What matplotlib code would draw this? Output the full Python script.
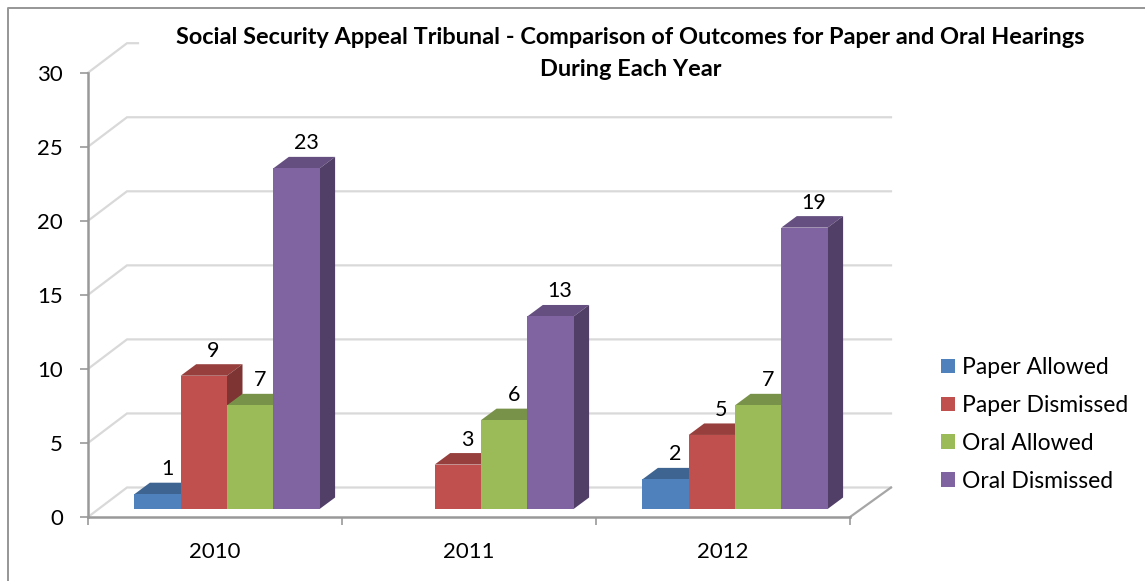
import matplotlib.pyplot as plt
from matplotlib.lines import Line2D
from matplotlib.patches import Patch, Polygon

years = ["2010", "2011", "2012"]
series_names = ["Paper Allowed", "Paper Dismissed", "Oral Allowed", "Oral Dismissed"]
paper_allowed = [1, 0, 2]
paper_dismissed = [9, 3, 5]
oral_allowed = [7, 6, 7]
oral_dismissed = [23, 13, 19]
all_series = [paper_allowed, paper_dismissed, oral_allowed, oral_dismissed]
yticks = [0, 5, 10, 15, 20, 25, 30]

front_cols = ["#4F81BD", "#C0504D", "#9BBB59", "#8064A2"]
top_cols = ["#3E6491", "#963F3C", "#79924A", "#654F80"]
side_cols = ["#335478", "#7E3432", "#657B3D", "#523F68"]

W, H = 1145, 581
plt.rcParams['font.family'] = ['Lato', 'DejaVu Sans']

fig = plt.figure(figsize=(W / 100, H / 100), dpi=100)
# axes = the front plane of the fake 3d box
ax = fig.add_axes([88 / W, 1 - 517 / H, 762 / W, 444.3 / H])
ax.set_xlim(0, 3)
ax.set_ylim(0, 30)
ax.patch.set_visible(False)

px_x = 3 / 762       # one pixel in x data
px_y = 30 / 444.3    # one pixel in y data

# back wall grid
wall_dx = 39 * px_x
wall_dy = 29.5 * px_y
right_end = 3 + 41 * px_x
for v in yticks:
    col = "#D9D9D9"
    end = right_end
    if v == 30:
        end = 50 * px_x   # title box hides the rest
    ax.plot([0, wall_dx, end], [v, v + wall_dy, v + wall_dy], color=col, lw=1.6,
            clip_on=False, zorder=1, solid_joinstyle="miter")
ax.plot([3, right_end], [0, wall_dy], color="#A6A6A6", lw=1.6, clip_on=False, zorder=1)

# bars, front faces through ax.bar and depth faces as polygons
bar_w = 46.3 * px_x
base = 8 * px_y
group_shift = 12 * px_x
bar_dx = 15.5 * px_x
bar_dy = 11.5 * px_y

for s, vals in enumerate(all_series):
    for i, v in enumerate(vals):
        if v == 0:
            continue
        x0 = i + 0.5 + group_shift + (s - 2) * bar_w
        x1 = x0 + bar_w
        top = base + v
        z = 3 + s
        ax.bar(x0, v, width=bar_w, bottom=base, align="edge", color=front_cols[s],
               clip_on=False, zorder=z + 0.2)
        ax.add_patch(Polygon([(x0, top), (x1, top), (x1 + bar_dx, top + bar_dy), (x0 + bar_dx, top + bar_dy)],
                             closed=True, fc=top_cols[s], ec="none", clip_on=False, zorder=z))
        ax.add_patch(Polygon([(x1, base), (x1 + bar_dx, base + bar_dy), (x1 + bar_dx, top + bar_dy), (x1, top)],
                             closed=True, fc=side_cols[s], ec="none", clip_on=False, zorder=z))
        ax.text((x0 + x1) / 2 + 9.5 * px_x, top + 25 * px_y, str(v), ha="center", va="center",
                fontsize=15.5, color="black", zorder=10)

# axes lines and ticks
for side in ["top", "right"]:
    ax.spines[side].set_visible(False)
for side in ["left", "bottom"]:
    ax.spines[side].set_color("#999999")
    ax.spines[side].set_linewidth(1.8)
    ax.spines[side].set_zorder(2)
ax.set_yticks(yticks)
ax.set_xticks([0, 1, 2, 3])
ax.set_xticklabels([])
ax.set_xticks([0.5, 1.5, 2.5], labels=years, minor=True)
ax.tick_params(axis="y", length=6, width=1.2, color="#999999", labelsize=16, pad=12)
ax.tick_params(axis="x", which="major", length=6, width=1.2, color="#999999")
ax.tick_params(axis="x", which="minor", length=0, labelsize=16, pad=18)

fig.text(630.5 / W, 1 - 38 / H, "Social Security Appeal Tribunal - Comparison of Outcomes for Paper and Oral Hearings",
         ha="center", va="center", fontsize=16.9, fontweight="bold", color="black")
fig.text(631 / W, 1 - 69 / H, "During Each Year",
         ha="center", va="center", fontsize=16.9, fontweight="bold", color="black")

handles = [Patch(fc=c, ec="none") for c in front_cols]
fig.legend(handles, series_names, loc="upper left", bbox_to_anchor=(941 / W, 1 - 357 / H),
           frameon=False, fontsize=16.5, handlelength=0.61, handleheight=0.61,
           handletextpad=0.3, labelspacing=0.74, borderpad=0, borderaxespad=0)

# chart frame, only left and top are in the crop
fig.add_artist(Line2D([7.5 / W, 7.5 / W, 1], [0, 1 - 8 / H, 1 - 8 / H], color="#969696", lw=1.4))

fig.savefig("out.png", dpi=100)
